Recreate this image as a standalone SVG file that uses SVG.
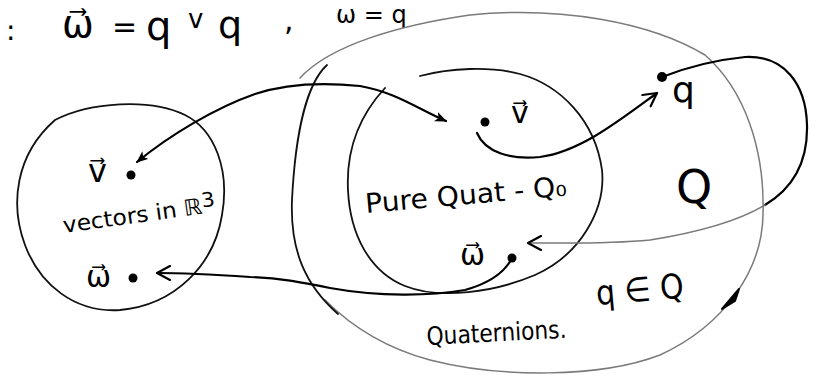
<svg xmlns="http://www.w3.org/2000/svg" width="817" height="377" viewBox="0 0 817 377">
<defs>
<style>
.t{font-family:"DejaVu Sans","Liberation Sans",sans-serif;fill:#000}
.ink{fill:none;stroke:#000;stroke-width:2.2;stroke-linecap:round;stroke-linejoin:round}
.thin{fill:none;stroke:#111;stroke-width:1.8;stroke-linecap:round}
.gray{fill:none;stroke:#7a7a7a;stroke-width:1.5;stroke-linecap:round}
.dot{fill:#000}
</style>
<marker id="fill" viewBox="0 0 12 10" refX="11" refY="5" markerWidth="12" markerHeight="10" markerUnits="userSpaceOnUse" orient="auto-start-reverse">
<path d="M0,0 L12,5 L0,10 L3,5 Z" fill="#000"/>
</marker>
<marker id="open" viewBox="0 0 16 16" refX="15" refY="8" markerWidth="16" markerHeight="16" markerUnits="userSpaceOnUse" orient="auto">
<path d="M2,1 L15,8 L2,15" fill="none" stroke="#000" stroke-width="2.2" stroke-linecap="round" stroke-linejoin="round"/>
</marker>
</defs>
<rect width="817" height="377" fill="#fff"/>

<g id="formula">
<text class="t" x="6" y="40" font-size="28">:</text>
<text class="t" x="62" y="37" font-size="38">ω⃗</text>
<text class="t" x="112" y="37" font-size="30">=</text>
<text class="t" x="146" y="40" font-size="40">q</text>
<text class="t" x="188" y="28" font-size="26">v</text>
<text class="t" x="218" y="38" font-size="38">q</text>
<text class="t" x="284" y="30" font-size="30">,</text>
<text class="t" x="336" y="23" font-size="24">ω = q</text>
</g>

<g id="quaternions">
<path class="gray" d="M300,78 C330,45 400,25 470,15 C560,6 650,22 705,55 C745,90 765,150 763,215 C762,270 725,325 660,355 C600,378 500,378 430,360 C385,348 350,325 325,300"/>
<path class="thin" d="M327,65 C305,85 295,140 292,200 C290,250 305,285 338,314"/>
<path d="M722,309 L739,289 L735,301 Z" fill="#000" stroke="#000" stroke-width="2" stroke-linejoin="round"/>
<text class="t" x="676" y="203" font-size="46">Q</text>
<text class="t" x="597" y="305" font-size="34" textLength="88" lengthAdjust="spacingAndGlyphs" transform="rotate(-5 597 305)">q ∈ Q</text>
<text class="t" x="427" y="345" font-size="25" textLength="140" lengthAdjust="spacingAndGlyphs" transform="rotate(-3 427 345)">Quaternions.</text>
<circle class="dot" cx="662" cy="77" r="5"/>
<text class="t" x="672" y="102" font-size="36">q</text>
</g>

<g id="pure-quat">
<path class="thin" d="M420,76 C450,68 490,66 520,74 C560,85 595,120 602,170 C606,210 580,255 535,275 C495,292 440,300 405,286 C370,272 350,235 348,190 C346,150 360,115 385,88"/>
<text class="t" x="366" y="213" font-size="27" textLength="202" lengthAdjust="spacingAndGlyphs" transform="rotate(-5 366 213)">Pure Quat - Q₀</text>
<circle class="dot" cx="485" cy="122" r="4.5"/>
<text class="t" x="511" y="123" font-size="30">v⃗</text>
<circle class="dot" cx="512" cy="258" r="4.5"/>
<text class="t" x="460" y="265" font-size="30">ω⃗</text>
</g>

<g id="vectors-r3">
<path class="thin" d="M55,120 C90,102 150,98 185,115 C215,130 230,170 222,215 C214,265 175,305 120,310 C75,313 40,285 25,245 C10,205 15,155 55,120"/>
<circle class="dot" cx="131" cy="175" r="4.5"/>
<text class="t" x="88" y="182" font-size="32">v⃗</text>
<circle class="dot" cx="133" cy="278" r="4.5"/>
<text class="t" x="86" y="287" font-size="30">ω⃗</text>
<text class="t" x="64" y="233" font-size="22" textLength="154" lengthAdjust="spacingAndGlyphs" transform="rotate(-8 64 233)">vectors in ℝ<tspan font-size="20" dy="-6">3</tspan></text>
</g>

<g id="connectors">
<path class="ink" d="M137,162 C170,135 215,108 255,94 C285,84 320,82 360,86 C395,92 420,110 446,121" marker-start="url(#fill)" marker-end="url(#fill)"/>
<path class="ink" d="M512,258 C505,272 490,283 465,290 C430,296 380,297 330,288 C300,282 280,278 250,277 C220,275 190,273 157,273" marker-end="url(#open)"/>
<path class="ink" d="M477,133 C485,152 510,160 540,157 C580,152 620,120 657,93" marker-end="url(#open)"/>
<path class="ink" d="M662,77 C685,68 715,60 745,57 C785,55 806,85 807,125 C808,165 790,190 765,205"/>
<path class="gray" stroke-width="1.8" d="M765,205 C740,220 700,232 650,240 C610,244 570,243 528,243" marker-end="url(#open)"/>
</g>
</svg>
